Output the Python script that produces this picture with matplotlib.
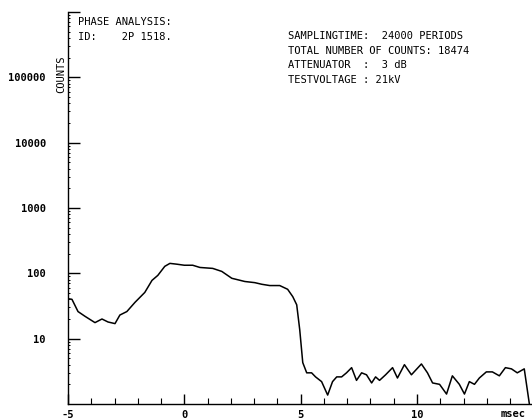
import matplotlib
matplotlib.use("Agg")
import matplotlib.pyplot as plt
from matplotlib.ticker import FixedLocator, LogLocator, NullFormatter

# ---- data ----
t_msec = [-5.0, -4.83, -4.57, -4.27, -3.84, -3.54, -3.28, -2.98, -2.77, -2.47,
          -2.12, -1.70, -1.39, -1.14, -0.84, -0.62, -0.32, 0.0, 0.36, 0.67,
          1.22, 1.61, 2.04, 2.60, 3.03, 3.33, 3.67, 4.10, 4.44, 4.66,
          4.83, 4.96, 5.09, 5.26, 5.47, 5.64, 5.90, 6.16, 6.37, 6.55,
          6.76, 6.97, 7.19, 7.40, 7.62, 7.83, 8.05, 8.22, 8.39, 8.65,
          8.95, 9.16, 9.46, 9.76, 10.19, 10.45, 10.67, 10.97, 11.27, 11.52,
          11.82, 12.04, 12.25, 12.47, 12.68, 12.98, 13.24, 13.54, 13.80, 14.06,
          14.31, 14.61, 14.83]
counts = [41, 40, 26, 22, 17.6, 20, 18, 17, 23, 26,
          36, 51, 78, 93, 128, 142, 138, 133, 133, 123,
          119, 107, 84, 75, 72, 68, 65, 65, 57, 44,
          33, 13.7, 4.3, 3.0, 3.0, 2.6, 2.2, 1.37, 2.2, 2.6,
          2.6, 3.0, 3.6, 2.3, 3.0, 2.8, 2.1, 2.6, 2.3, 2.8,
          3.6, 2.5, 4.0, 2.8, 4.1, 3.0, 2.1, 2.0, 1.42, 2.7,
          2.0, 1.42, 2.2, 2.0, 2.5, 3.1, 3.1, 2.7, 3.6, 3.45,
          3.0, 3.45, 1.0]

y_ticks = [1e1, 1e2, 1e3, 1e4, 1e5, 1e6]
y_labels = ["10", "100", "1000", "10000", "100000", ""]
x_major = [-5, 0, 5, 10]
x_minor = [-4, -3, -2, -1, 1, 2, 3, 4, 6, 7, 8, 9, 11, 12, 13, 14]

header_left = ["PHASE ANALYSIS:", "ID:    2P 1518."]
header_right = ["SAMPLINGTIME:  24000 PERIODS",
                "TOTAL NUMBER OF COUNTS: 18474",
                "ATTENUATOR  :  3 dB",
                "TESTVOLTAGE : 21kV"]

MONO = "DejaVu Sans Mono"
FS = 7.5

fig = plt.figure(figsize=(5.32, 4.2), dpi=100, facecolor="white")
ax = fig.add_axes([68 / 532, 16 / 420, 463 / 532, 392 / 420])
ax.plot(t_msec, counts, color="black", lw=1.1)

ax.set_yscale("log")
ax.set_ylim(1, 1e6)
ax.set_xlim(-5, 14.9)

for s in ("top", "right"):
    ax.spines[s].set_visible(False)
for s in ("left", "bottom"):
    ax.spines[s].set_linewidth(1.0)

# tick lengths are in points: 12 px ~ 8.6 pt at 100 dpi
ax.yaxis.set_major_locator(FixedLocator(y_ticks))
ax.set_yticklabels(y_labels, fontfamily=MONO, fontsize=FS, fontweight="bold")
ax.yaxis.set_minor_locator(LogLocator(base=10, subs=range(2, 10)))
ax.yaxis.set_minor_formatter(NullFormatter())
ax.tick_params(axis="y", which="major", direction="in", length=8.6, width=1.0, pad=16)
ax.tick_params(axis="y", which="minor", direction="in", length=1.2, width=0.7)

ax.xaxis.set_major_locator(FixedLocator(x_major))
ax.xaxis.set_minor_locator(FixedLocator(x_minor))
ax.set_xticklabels([str(v) for v in x_major], fontfamily=MONO, fontsize=FS, fontweight="bold")
ax.tick_params(axis="x", which="major", direction="in", length=7.2, width=1.0, pad=4)
ax.tick_params(axis="x", which="minor", direction="in", length=4.3, width=0.8)

# unit label and axis name
fig.text(513 / 532, 1 - 414 / 420, "msec", ha="center", va="center",
         fontfamily=MONO, fontsize=FS, fontweight="bold")
fig.text(61 / 532, 1 - 74 / 420, "COUNTS", ha="center", va="center", rotation=90,
         fontfamily=MONO, fontsize=FS)

# header blocks
for i, line in enumerate(header_left):
    fig.text(78 / 532, 1 - (22 + 14.5 * i) / 420, line, ha="left", va="center",
             fontfamily=MONO, fontsize=FS)
for i, line in enumerate(header_right):
    fig.text(288 / 532, 1 - (36 + 14.7 * i) / 420, line, ha="left", va="center",
             fontfamily=MONO, fontsize=FS)

fig.savefig("out.png", dpi=100, facecolor="white")
